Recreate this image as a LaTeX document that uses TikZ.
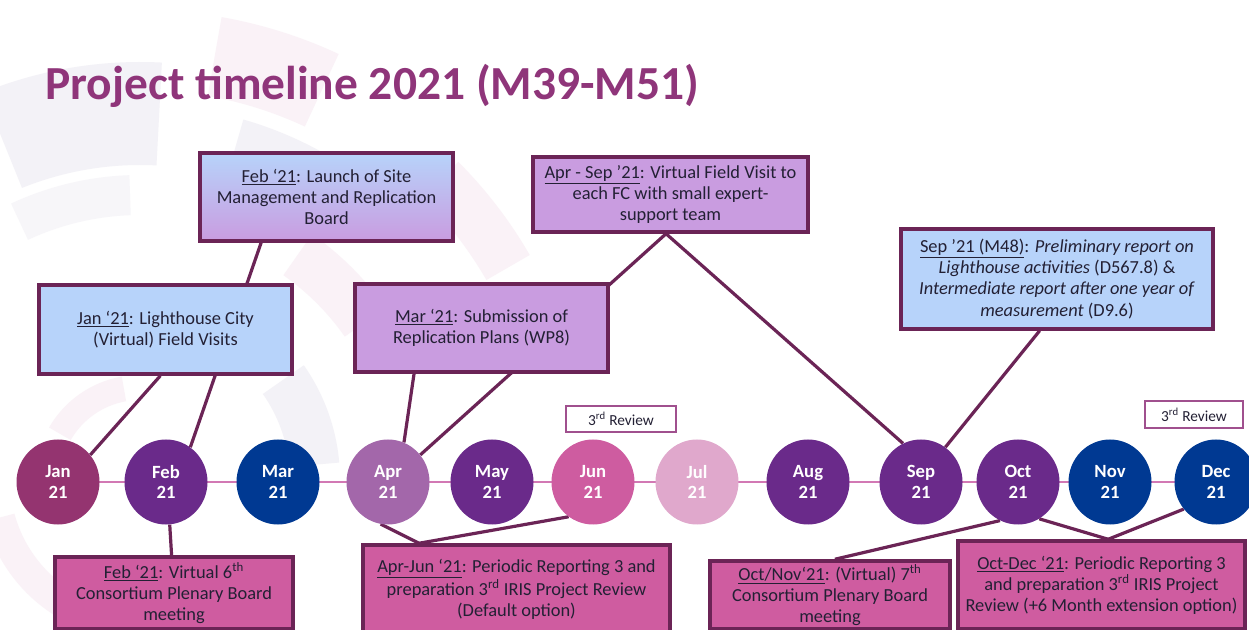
\documentclass[tikz,border=0pt]{standalone}
\usepackage{fontspec}
\setmainfont{Carlito}
\usetikzlibrary{calc,shapes.geometric}
\newlength\px \setlength\px{0.75pt}
\definecolor{ttl}{RGB}{143,53,122}
\definecolor{bord}{RGB}{107,36,86}
\definecolor{lblue}{RGB}{183,211,250}
\definecolor{lav}{RGB}{201,156,224}
\definecolor{pinkbox}{RGB}{207,92,160}
\definecolor{txt}{RGB}{35,32,52}
\definecolor{cjan}{RGB}{148,52,112}
\definecolor{cpur}{RGB}{106,42,138}
\definecolor{cblue}{RGB}{0,57,146}
\definecolor{capr}{RGB}{163,103,170}
\definecolor{cjun}{RGB}{206,92,160}
\definecolor{cjul}{RGB}{224,168,204}
\definecolor{tline}{RGB}{210,120,180}
\definecolor{revb}{RGB}{160,80,142}
\definecolor{bgpink}{RGB}{250,242,247}
\definecolor{bggrey}{RGB}{243,242,247}
\pgfdeclarelayer{deco}\pgfdeclarelayer{bg}\pgfsetlayers{deco,bg,main}
\newcommand\ringseg[5]{%
  \fill[#1] ($(C)+(#4:#2)$) arc[start angle=#4, end angle=#5, radius=#2]
    -- ($(C)+(#5:#3)$) arc[start angle=#5, end angle=#4, radius=#3] -- cycle;}
\begin{document}
\begin{tikzpicture}[x=0.75pt,y=-0.75pt,
  month/.style={ellipse, minimum width=83\px, minimum height=85\px, inner sep=0pt,
    text=white, align=center, font=\bfseries\fontsize{14}{15.5}\selectfont},
  tbox/.style={draw=bord, line width=2.6pt, inner sep=0pt, align=center, text=txt,
    font=\fontsize{13.8}{15.8}\selectfont},
  review/.style={draw=revb, line width=1pt, fill=white, inner sep=0pt, text=txt,
    font=\fontsize{11.5}{13}\selectfont},
  conn/.style={draw=bord, line width=2.4pt}]
\useasboundingbox (0,0) rectangle (1249,630);
% background watermark
\begin{pgfonlayer}{deco}
\fill[white] (0,0) rectangle (1249,630);
\coordinate (C) at (140,480);
\ringseg{bggrey}{315}{418}{-112}{-87}
\ringseg{bggrey!70!white}{265}{305}{-115}{-92}
\ringseg{bggrey}{290}{375}{-74}{-55}
\ringseg{bgpink}{390}{470}{-80}{-65}
\ringseg{bgpink}{250}{300}{-55}{-35}
\ringseg{bgpink}{400}{450}{-45}{-30}
\ringseg{bggrey}{150}{200}{-35}{-5}
\ringseg{bgpink}{80}{105}{-150}{-100}
\ringseg{bgpink}{130}{160}{120}{165}
\end{pgfonlayer}
% title
\node[anchor=base west, text=ttl, inner sep=0pt, font=\bfseries\fontsize{35.6}{40}\selectfont] (title) at (45,100) {Project timeline 2021 (M39-M51)};
% months
\node[month, fill=cjan] (jan) at (58,482) {Jan\\21};
\node[month, fill=cpur] (feb) at (166,482) {Feb\\21};
\node[month, fill=cblue] (mar) at (278,482) {Mar\\21};
\node[month, fill=capr] (apr) at (388,482) {Apr\\21};
\node[month, fill=cpur] (may) at (492,482) {May\\21};
\node[month, fill=cjun] (jun) at (593,482) {Jun\\21};
\node[month, fill=cjul] (jul) at (697,482) {Jul\\21};
\node[month, fill=cpur] (aug) at (808,482) {Aug\\21};
\node[month, fill=cpur] (sep) at (921,482) {Sep\\21};
\node[month, fill=cpur] (oct) at (1018,482) {Oct\\21};
\node[month, fill=cblue] (nov) at (1110,482) {Nov\\21};
\node[month, fill=cblue] (dec) at (1216,482) {Dec\\21};
% top boxes
\node[tbox, top color=lblue, bottom color=lav, minimum width=253\px, minimum height=88\px] (launch) at (326.5,197)
  {\underline{Feb ‘21}: Launch of Site\\Management and Replication\\Board};
\node[tbox, fill=lav, minimum width=275\px, minimum height=75\px] (aprsep) at (670.5,194.5)
  {\underline{Apr - Sep ’21}: Virtual Field Visit to\\each FC with small expert-\\support team};
\node[tbox, fill=lblue, minimum width=312\px, minimum height=100\px] (sepbox) at (1057,279)
  {\underline{Sep ’21 (M48)}: \textit{Preliminary report on}\\\textit{Lighthouse activities} (D567.8) \&\\\textit{Intermediate report after one year of}\\\textit{measurement} (D9.6)};
\node[tbox, fill=lblue, minimum width=253\px, minimum height=89\px] (janbox) at (165.5,329.5)
  {\underline{Jan ‘21}: Lighthouse City\\(Virtual) Field Visits};
\node[tbox, fill=lav, minimum width=253\px, minimum height=88\px] (marbox) at (481.5,328)
  {\underline{Mar ‘21}: Submission of\\Replication Plans (WP8)};
% review labels
\node[review, minimum width=110\px, minimum height=26\px] (rev1) at (621,419) {3\textsuperscript{rd} Review};
\node[review, minimum width=98\px, minimum height=27\px] (rev2) at (1194,414.5) {3\textsuperscript{rd} Review};
% bottom boxes
\node[tbox, fill=pinkbox, minimum width=238\px, minimum height=72\px] (febbot) at (174,593)
  {\underline{Feb ‘21}: Virtual 6\textsuperscript{th}\\Consortium Plenary Board\\meeting};
\node[tbox, fill=pinkbox, minimum width=307\px, minimum height=88\px] (aprjun) at (516.5,589)
  {\underline{Apr-Jun ‘21}: Periodic Reporting 3 and\\preparation 3\textsuperscript{rd} IRIS Project Review\\(Default option)};
\node[tbox, fill=pinkbox, minimum width=240\px, minimum height=68\px] (octnov) at (830,595)
  {\underline{Oct/Nov‘21}: (Virtual) 7\textsuperscript{th}\\Consortium Plenary Board\\meeting};
\node[tbox, fill=pinkbox, minimum width=287\px, minimum height=88\px] (octdec) at (1101.5,585)
  {\underline{Oct-Dec ‘21}: Periodic Reporting 3\\and preparation 3\textsuperscript{rd} IRIS Project\\Review (+6 Month extension option)};
% connectors
\begin{pgfonlayer}{bg}
\draw[tline, line width=1.5pt] (jan.center) -- (dec.center);
\draw[conn] ($(launch.south west)!0.245!(launch.south east)$) -- (feb.55);
\draw[conn] ($(janbox.south west)!0.48!(janbox.south east)$) -- (jan.40);
\draw[conn] ($(marbox.south west)!0.237!(marbox.south east)$) -- (apr.68);
\coordinate (apexAS) at ($(aprsep.south west)!0.484!(aprsep.south east)$);
\draw[conn] (apexAS) -- (apr.40);
\draw[conn] (apexAS) -- (sep.115);
\draw[conn] ($(sepbox.south west)!0.445!(sepbox.south east)$) -- (sep.55);
\draw[conn] (feb.-85) -- ($(febbot.north west)!0.49!(febbot.north east)$);
\coordinate (apexAJ) at ($(aprjun.north west)!0.186!(aprjun.north east)$);
\draw[conn] (apexAJ) -- (apr.-100);
\draw[conn] (apexAJ) -- (jun.-125);
\draw[conn] ($(octnov.north west)!0.52!(octnov.north east)$) -- (oct.-115);
\coordinate (apexOD) at ($(octdec.north west)!0.523!(octdec.north east)$);
\draw[conn] (apexOD) -- (oct.-60);
\draw[conn] (apexOD) -- (dec.-140);
\end{pgfonlayer}
\end{tikzpicture}
\end{document}
